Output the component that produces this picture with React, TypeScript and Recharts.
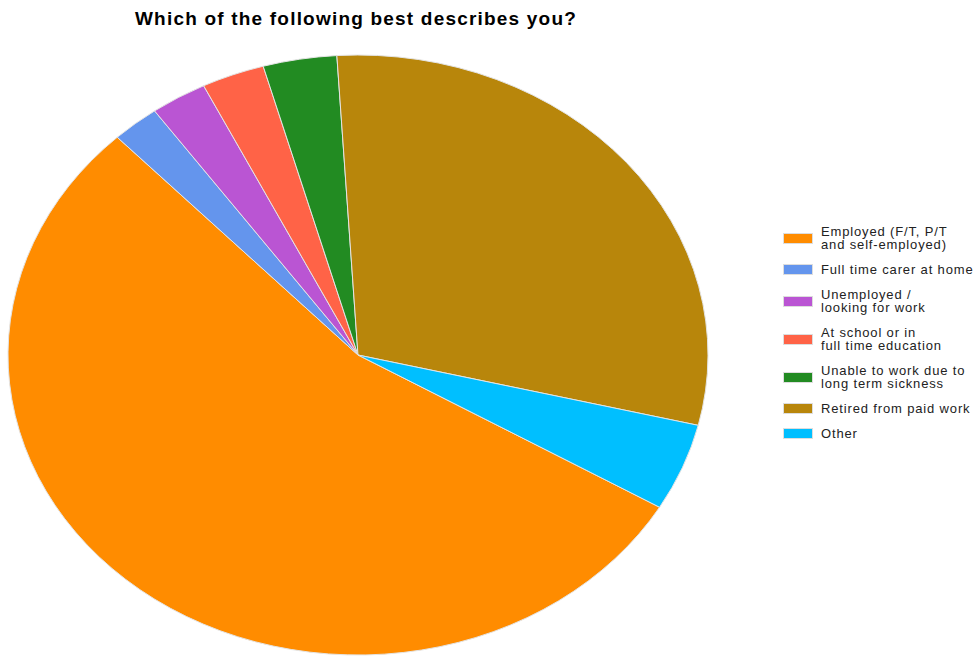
import { PieChart, Pie, Cell, Legend, Sector } from 'recharts';

const categories = [
  'Employed (F/T, P/T\nand self-employed)',
  'Full time carer at home',
  'Unemployed /\nlooking for work',
  'At school or in\nfull time education',
  'Unable to work due to\nlong term sickness',
  'Retired from paid work',
  'Other',
];
const shares = [54.4, 2.2, 2.6, 2.9, 3.4, 29.7, 4.7];
const colors = ['#FF8C00', '#6495ED', '#BA55D3', '#FF6347', '#228B22', '#B8860B', '#00BFFF'];

const data = categories.map((name, i) => ({ name, value: shares[i] }));

const CX = 358;
const CY = 355;
const RY = 300;
const SX = 350 / 300; // pie is drawn as an ellipse in the source

// stretch each sector horizontally about the centre
function EllipseSector(props: any) {
  return (
    <g transform={`translate(${props.cx} ${props.cy}) scale(${SX} 1) translate(${-props.cx} ${-props.cy})`}>
      <Sector {...props} stroke="#e4e4e4" strokeWidth={1} vectorEffect="non-scaling-stroke" />
    </g>
  );
}

function LegendList() {
  return (
    <div style={{ fontFamily: 'Arial, "Liberation Sans", sans-serif', fontSize: 13, letterSpacing: 0.85, lineHeight: '13px', color: '#222' }}>
      {data.map((d, i) => (
        <div key={d.name} style={{ display: 'flex', alignItems: 'center', marginBottom: 12 }}>
          <span style={{ width: 28, height: 9, background: colors[i], border: '1px solid #ddd', marginRight: 8, flexShrink: 0 }} />
          <span style={{ whiteSpace: 'pre' }}>{d.name}</span>
        </div>
      ))}
    </div>
  );
}

export default function App() {
  return (
    <div style={{ position: 'relative', width: 977, height: 657, background: '#fff' }}>
      <style>{'body{margin:0}'}</style>
      <div
        style={{
          position: 'absolute', left: 0, width: 712, top: 8, textAlign: 'center',
          fontFamily: 'Arial, "Liberation Sans", sans-serif', fontWeight: 'bold', fontSize: 19,
          letterSpacing: 1.2, color: '#000',
        }}
      >
        Which of the following best describes you?
      </div>
      <PieChart width={977} height={657} margin={{ top: 0, right: 0, bottom: 0, left: 0 }}>
        <Pie
          data={data}
          dataKey="value"
          nameKey="name"
          cx={CX}
          cy={CY}
          outerRadius={RY}
          startAngle={-30.5}
          endAngle={-390.5}
          shape={EllipseSector}
          isAnimationActive={false}
        >
          {data.map((d, i) => (
            <Cell key={d.name} fill={colors[i]} />
          ))}
        </Pie>
        <Legend
          layout="vertical"
          content={() => <LegendList />}
          wrapperStyle={{ left: 783, top: 225, width: 194 }}
        />
      </PieChart>
    </div>
  );
}
